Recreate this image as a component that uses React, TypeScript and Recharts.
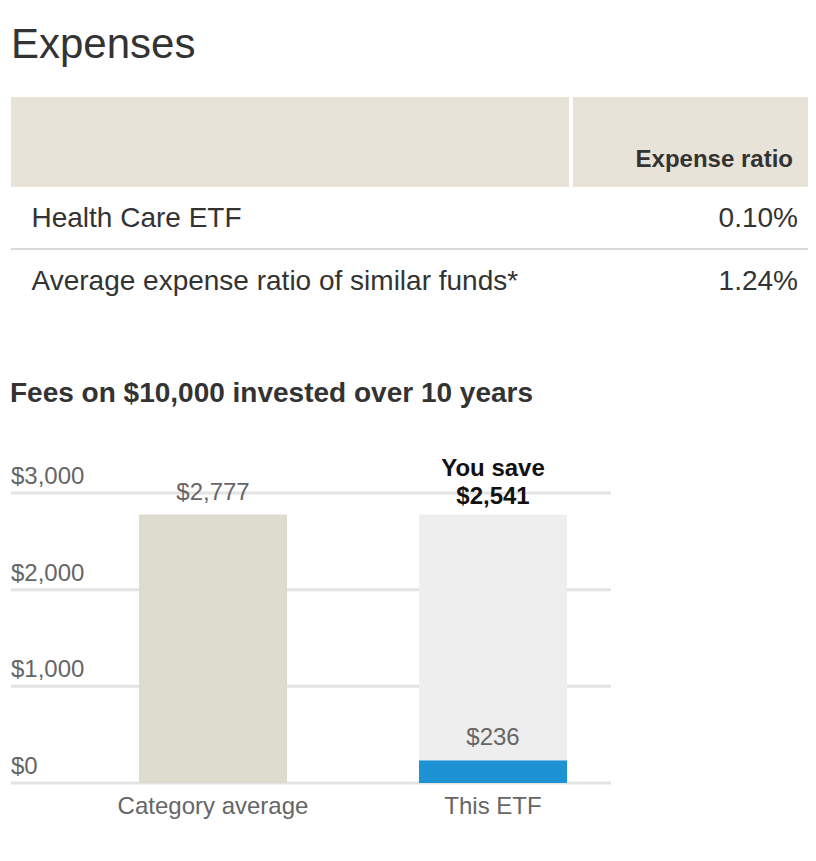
import { BarChart, Bar, XAxis, YAxis, CartesianGrid, LabelList } from "recharts";

const categories = ["Category average", "This ETF"];
const categoryFees = [2777, 0];
const etfFees = [0, 236];
const savings = [0, 2541];
const yTicks = [0, 1000, 2000, 3000];

const tableRows = [
  { name: "Health Care ETF", ratio: "0.10%" },
  { name: "Average expense ratio of similar funds*", ratio: "1.24%" },
];

const FONT = "Arial, 'Liberation Sans', Helvetica, sans-serif";

const data = categories.map((c, i) => ({
  name: c,
  category: categoryFees[i],
  etf: etfFees[i],
  savings: savings[i],
}));

const money = (v: number) => "$" + v.toLocaleString("en-US");

function ValueLabel(props: any) {
  const { x, y, width, value } = props;
  if (!value) return null;
  return (
    <text x={x + width / 2} y={y - 15} textAnchor="middle" fill="#666" fontSize={24} fontFamily={FONT}>
      {money(value)}
    </text>
  );
}

function SaveLabel(props: any) {
  const { x, y, width, value } = props;
  if (!value) return null;
  return (
    <text x={x + width / 2} y={y - 11} textAnchor="middle" fill="#111" fontSize={24} fontWeight="bold" fontFamily={FONT}>
      <tspan x={x + width / 2} dy={-28}>You save</tspan>
      <tspan x={x + width / 2} dy={28}>{money(value)}</tspan>
    </text>
  );
}

function YTick(props: any) {
  const { x, y, payload } = props;
  return (
    <text x={x} y={y - 9} textAnchor="start" fill="#666" fontSize={24} fontFamily={FONT}>
      {money(payload.value)}
    </text>
  );
}

function XTick(props: any) {
  const { x, y, payload } = props;
  return (
    <text x={x} y={y + 31} textAnchor="middle" fill="#666" fontSize={24} fontFamily={FONT}>
      {payload.value}
    </text>
  );
}

export default function App() {
  return (
    <div style={{ position: "relative", width: 808, height: 845, fontFamily: FONT, color: "#333" }}>
      <div style={{ position: "absolute", left: 3, top: 14.5, fontSize: 42, lineHeight: 1 }}>Expenses</div>

      <div style={{ position: "absolute", left: 3, top: 89, width: 558, height: 90, background: "#e8e3d9" }} />
      <div style={{ position: "absolute", left: 565, top: 89, width: 239, height: 90, background: "#e8e3d9" }} />
      <div
        style={{
          position: "absolute",
          left: 565,
          width: 220,
          top: 138.7,
          fontSize: 24,
          fontWeight: "bold",
          lineHeight: 1,
          textAlign: "right",
        }}
      >
        Expense ratio
      </div>

      {tableRows.map((r, i) => (
        <div key={r.name}>
          <div style={{ position: "absolute", left: 23.5, top: 196.3 + i * 63, fontSize: 28, lineHeight: 1 }}>{r.name}</div>
          <div
            style={{ position: "absolute", left: 560, width: 230, top: 196.3 + i * 63, fontSize: 28, lineHeight: 1, textAlign: "right" }}
          >
            {r.ratio}
          </div>
        </div>
      ))}
      <div style={{ position: "absolute", left: 3, top: 240, width: 801, height: 2, background: "#d9d9d9" }} />

      <div style={{ position: "absolute", left: 2, top: 371.3, fontSize: 28, fontWeight: "bold", lineHeight: 1 }}>
        Fees on $10,000 invested over 10 years
      </div>

      <div style={{ position: "absolute", left: 0, top: 432 }}>
        <BarChart width={800} height={400} data={data} margin={{ top: 53, right: 197, bottom: 17, left: 2 }}>
          <CartesianGrid vertical={false} stroke="#e3e3e3" strokeWidth={3} />
          <XAxis
            dataKey="name"
            height={40}
            axisLine={false}
            tickLine={false}
            tickSize={0}
            tickMargin={0}
            padding={{ left: 62, right: -22 }}
            tick={<XTick />}
            interval={0}
          />
          <YAxis
            width={1}
            domain={[0, 3000]}
            ticks={yTicks}
            axisLine={false}
            tickLine={false}
            tickSize={0}
            tickMargin={0}
            tick={<YTick />}
            interval={0}
          />
          <Bar dataKey="category" stackId="a" fill="#dedbcf" barSize={148} isAnimationActive={false}>
            <LabelList dataKey="category" content={<ValueLabel />} />
          </Bar>
          <Bar dataKey="etf" stackId="a" fill="#1e93d4" barSize={148} isAnimationActive={false}>
            <LabelList dataKey="etf" content={<ValueLabel />} />
          </Bar>
          <Bar dataKey="savings" stackId="a" fill="#eeeeee" barSize={148} isAnimationActive={false}>
            <LabelList dataKey="savings" content={<SaveLabel />} />
          </Bar>
        </BarChart>
      </div>
    </div>
  );
}
